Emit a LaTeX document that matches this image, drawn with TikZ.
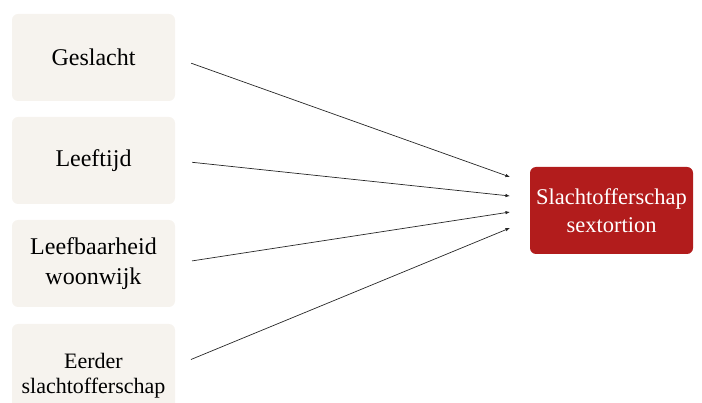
\documentclass[tikz,border=0pt]{standalone}
\usepackage{fontspec}
\setmainfont{Liberation Serif}
\usepackage{xcolor}
\usetikzlibrary{arrows.meta}
\definecolor{boxbeige}{HTML}{F6F3EE}
\definecolor{boxred}{HTML}{B21C1C}
\begin{document}
\begin{tikzpicture}[x=1pt,y=-1pt,
    factor/.style={fill=boxbeige, rounded corners=6pt, minimum width=163pt, minimum height=87pt, align=center, font=\fontsize{24}{30}\selectfont},
    uitkomst/.style={fill=boxred, text=white, rounded corners=6pt, minimum width=163pt, minimum height=87pt, align=center, font=\fontsize{22.5}{28}\selectfont},
    pijl/.style={draw=black!85, line width=0.7pt, -{Latex[length=4.5pt,width=3.5pt]}, shorten <=17pt}]
                \useasboundingbox (0,0) rectangle (702,403);
                \node[factor] (geslacht) at (93.5,57.5) {Geslacht};
                \node[factor] (leeftijd) at (93.5,160.5) {Leeftijd};
                \node[factor] (wijk) at (93.5,263.5) {Leefbaarheid\\woonwijk};
                \node[factor, minimum height=104pt, font=\fontsize{22}{25}\selectfont] (eerder) at (93.5,376) {Eerder\\slachtofferschap};
                \node[uitkomst] (sextortion) at (611.5,210.5) {Slachtofferschap\\sextortion};
                \coordinate (t1) at (510,177);
                \coordinate (t2) at (510,196);
                \coordinate (t3) at (510,212);
                \coordinate (t4) at (510,228);
                \draw[pijl] (geslacht.east) -- (t1);
                \draw[pijl] (leeftijd.east) -- (t2);
                \draw[pijl] (wijk.east) -- (t3);
                \draw[pijl] ([yshift=10pt]eerder.east) -- (t4);
            \end{tikzpicture}
\end{document}
